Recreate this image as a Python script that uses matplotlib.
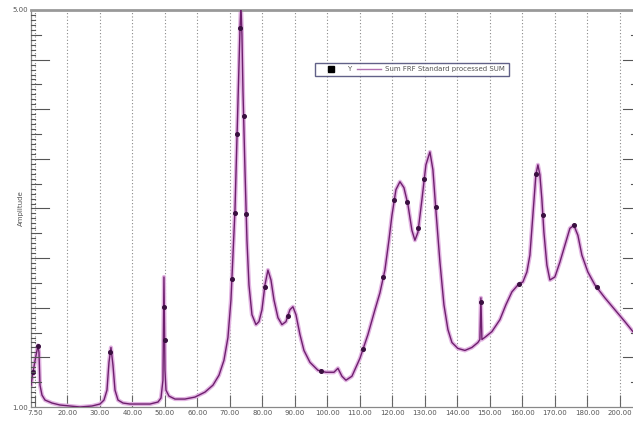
import numpy as np
import matplotlib
matplotlib.use("Agg")
import matplotlib.pyplot as plt
from matplotlib.lines import Line2D

# ---- data ----
freq = [8.77, 9.38, 10.31, 10.92, 11.23, 11.54, 12.15, 13.08, 15.23, 17.69, 20.77, 23.85, 27.54,
        30.0, 31.23, 32.15, 32.77, 33.38, 34.0, 34.62, 35.54, 37.08, 39.23, 42.31, 45.38, 47.85,
        48.77, 49.38, 49.69, 50.0, 50.31, 51.23, 53.08, 56.15, 59.23, 62.31, 64.77, 66.62, 68.15,
        69.38, 70.31, 70.92, 71.54, 72.15, 72.77, 73.08, 73.38, 73.69, 74.0, 74.62, 75.23, 75.85,
        76.77, 78.0, 78.92, 79.85, 80.77, 81.69, 82.62, 83.54, 84.77, 86.0, 87.23, 88.46, 89.38,
        90.31, 91.54, 92.77, 94.62, 97.08, 99.54, 102.0, 103.23, 104.46, 105.69, 107.54, 110.0,
        112.46, 114.62, 116.15, 117.69, 118.92, 119.85, 121.08, 122.31, 123.54, 124.77, 126.0,
        126.92, 127.85, 129.08, 130.31, 131.54, 132.46, 133.38, 134.62, 135.85, 137.08, 138.31,
        140.15, 142.31, 144.46, 146.31, 146.92, 147.23, 147.54, 148.77, 150.62, 153.08, 154.92,
        156.77, 158.62, 160.15, 161.38, 162.31, 163.23, 164.15, 164.77, 165.38, 166.0, 166.62,
        167.54, 168.46, 170.0, 171.54, 173.08, 174.62, 175.85, 177.08, 178.31, 180.15, 182.31,
        185.38, 188.46, 191.54, 194.0, 196.46]
amp = [1.22, 1.35, 1.52, 1.62, 1.55, 1.22, 1.12, 1.07, 1.04, 1.02, 1.01, 1.00, 1.01,
       1.03, 1.07, 1.17, 1.45, 1.60, 1.42, 1.17, 1.07, 1.04, 1.03, 1.03, 1.03, 1.05,
       1.09, 1.27, 2.31, 1.37, 1.17, 1.11, 1.08, 1.08, 1.10, 1.15, 1.22, 1.32, 1.47,
       1.70, 2.08, 2.53, 2.98, 3.69, 4.40, 4.80, 5.05, 4.75, 4.19, 3.39, 2.68, 2.23,
       1.93, 1.83, 1.86, 1.98, 2.23, 2.38, 2.28, 2.08, 1.90, 1.83, 1.86, 1.98, 2.01,
       1.93, 1.73, 1.57, 1.45, 1.37, 1.35, 1.35, 1.39, 1.31, 1.27, 1.31, 1.49,
       1.73, 1.98, 2.15, 2.38, 2.68, 2.93, 3.19, 3.27, 3.21, 3.04, 2.78,
       2.68, 2.76, 3.09, 3.44, 3.57, 3.39, 2.98, 2.46, 2.03, 1.78, 1.65,
       1.59, 1.57, 1.60, 1.65, 1.68, 2.10, 1.68, 1.71, 1.76, 1.88, 2.03,
       2.16, 2.23, 2.26, 2.36, 2.53, 2.93, 3.34, 3.44, 3.34, 3.09, 2.76,
       2.43, 2.28, 2.31, 2.46, 2.63, 2.80, 2.83, 2.73, 2.53, 2.36, 2.23,
       2.10, 1.98, 1.86, 1.76, 1.68]
marker_freq = [9.4, 10.9, 33.2, 49.6, 49.9, 70.6, 71.5, 72.2, 73.1, 74.2, 75.0, 80.7, 87.8,
               97.9, 111.0, 117.2, 120.6, 124.6, 128.0, 129.8, 133.3, 147.2, 159.0, 164.2,
               166.3, 175.8, 182.9]

xtick_pos = [10, 20, 30, 40, 50, 60, 70, 80, 90, 100, 110, 120, 130, 140, 150, 160, 170, 180, 190]
xtick_labels = ["7.50", "20.00", "30.00", "40.00", "50.00", "60.00", "70.00", "80.00", "90.00",
                "100.00", "110.00", "120.00", "130.00", "140.00", "150.00", "160.00", "170.00",
                "180.00", "200.00"]
ytick_pos = [1.0, 5.0]
ytick_labels = ["1.00", "5.00"]
series_label = "Sum FRF Standard processed SUM"
marker_label = "Y"

# ---- figure ----
W, H = 633, 423
fig = plt.figure(figsize=(W / 100, H / 100), dpi=100)
L, R, T, B = 31, 641, 10, 407
ax = fig.add_axes([L / W, 1 - B / H, (R - L) / W, (B - T) / H])

ax.plot(freq, amp, color="#e2b4e2", lw=3.0, solid_joinstyle="round", zorder=2)
ax.plot(freq, amp, color="#6e1f6e", lw=1.0, solid_joinstyle="round", zorder=3)
my = np.interp(marker_freq, freq, amp)
ax.plot(marker_freq, my, "o", color="#3a1040", ms=2.6, zorder=4)

ax.set_xlim(8.77, 196.5)
ax.set_ylim(1.0, 5.0)

ax.set_xticks(xtick_pos)
ax.set_xticklabels(xtick_labels)
ax.set_yticks(ytick_pos)
ax.set_yticklabels(ytick_labels)
for x in xtick_pos:
    ax.axvline(x, color="#8a8a8a", lw=0.8, ls=(0, (1, 2)), zorder=1)

ax.tick_params(axis="x", direction="in", length=9, width=0.8, color="#666666",
               labelsize=5, labelcolor="#555555", pad=2)
ax.tick_params(axis="y", which="major", direction="in", length=0, labelsize=5,
               labelcolor="#555555", pad=2)

# y tick marks on both sides (inward)
for side_x, sgn in ((0, 1), (1, -1)):
    for v in np.arange(1.05, 5.0, 0.05):
        k = int(round(v / 0.05))
        if k % 10 == 0:
            ln = 0.030
        elif k % 5 == 0:
            ln = 0.016
        else:
            ln = 0.006
        ax.plot([side_x, side_x + sgn * ln], [v, v], color="#555555", lw=0.8,
                transform=ax.get_yaxis_transform(), clip_on=False, zorder=5)

for s in ("left", "bottom", "right"):
    ax.spines[s].set_color("#888888")
    ax.spines[s].set_linewidth(0.9)
ax.spines["top"].set_color("#999999")
ax.spines["top"].set_linewidth(2.0)

ax.set_ylabel("Amplitude", fontsize=5, color="#555555")
ax.yaxis.set_label_coords(-0.012, 0.5)

handles = [Line2D([], [], marker="s", ls="none", color="black", ms=4),
           Line2D([], [], color="#b070b0", lw=1.0)]
leg = ax.legend(handles, [marker_label, series_label], loc="upper left",
                bbox_to_anchor=(0.46, 0.876), ncol=2, fontsize=5, frameon=True,
                fancybox=False, borderpad=0.5, handlelength=3.5, columnspacing=0.8,
                handletextpad=0.6, labelcolor="#555555")
leg.get_frame().set_edgecolor("#3a3a6a")
leg.get_frame().set_linewidth(1.0)

fig.savefig("out.png", dpi=100)
